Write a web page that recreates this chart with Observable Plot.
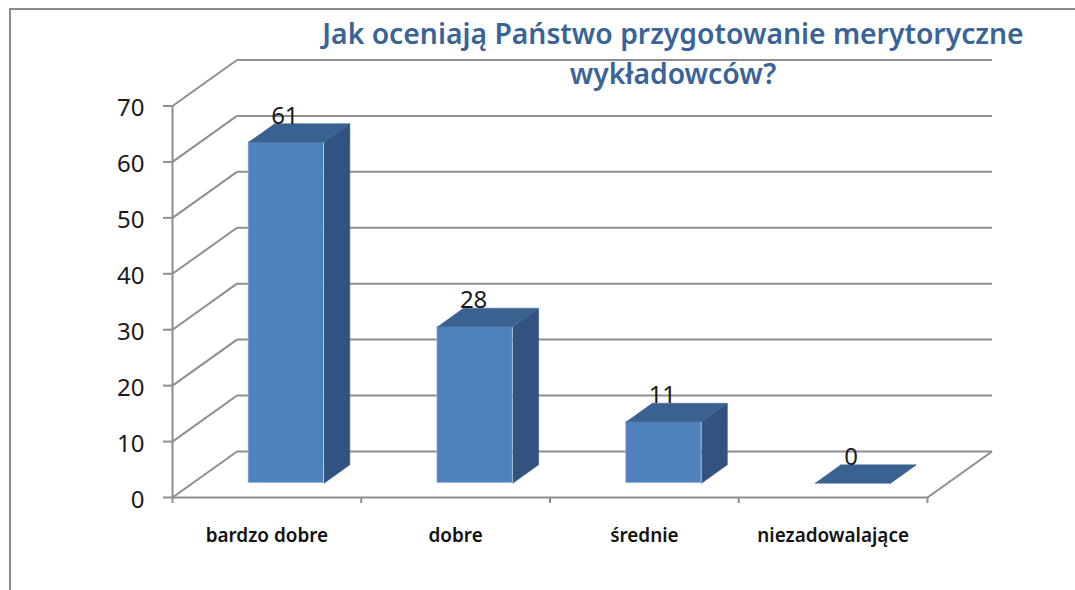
<!DOCTYPE html>
<html lang="pl">
<head>
<meta charset="utf-8">
<script src="https://cdn.jsdelivr.net/npm/d3@7"></script>
<script src="https://cdn.jsdelivr.net/npm/@observablehq/plot@0.6"></script>
<style>
  html, body { margin: 0; padding: 0; background: #fff; overflow: hidden; }
  #chart { position: relative; width: 1075px; height: 590px; }
  #chart svg { display: block; position: absolute; left: 0; top: 0; background: transparent; }
  #edge { position: absolute; left: 8.5px; top: 7.5px; right: 0; bottom: 0; border-top: 2px solid #8c8c8c; border-left: 2px solid #8c8c8c; }
</style>
</head>
<body>
<div id="chart"><div id="edge"></div></div>
<script>
const categories = ["bardzo dobre", "dobre", "średnie", "niezadowalające"];
const values = [61, 28, 11, 0];
const yTicks = [0, 10, 20, 30, 40, 50, 60, 70];
const chartTitle = "Jak oceniają Państwo przygotowanie merytoryczne\nwykładowców?";

// Oblique projection of depth z (0 = front, 1 = back wall) into data units.
const depthX = 0.3417, depthY = 8.23;
const px = (u, z) => u + depthX * z;
const py = (v, z) => v + depthY * z;
const u0 = 0.297, u1 = 0.697, z0 = 0.31, z1 = 0.71;

const n = categories.length;
const wallBack = yTicks.map(v => ({x1: px(0, 1), y1: py(v, 1), x2: px(n, 1), y2: py(v, 1)}));
const wallSide = yTicks.map(v => ({x1: px(0, 0), y1: py(v, 0), x2: px(0, 1), y2: py(v, 1)}));
const floor = [
  {x1: px(0, 0), y1: 0, x2: px(n, 0), y2: 0},
  {x1: px(n, 0), y1: 0, x2: px(n, 1), y2: py(0, 1)},
  {x1: 0, y1: 0, x2: 0, y2: 70}
];

const bars = values.map((v, i) => ({i, v, label: String(v)}));
const face = (pts) => pts.map(([u, v, z]) => ({x: px(u, z), y: py(v, z)}));
const sides = bars.flatMap(b => face([
  [b.i + u1, 0, z0], [b.i + u1, 0, z1], [b.i + u1, b.v, z1], [b.i + u1, b.v, z0]
]).map(p => ({...p, id: b.i})));
const tops = bars.flatMap(b => face([
  [b.i + u0, b.v, z0], [b.i + u1, b.v, z0], [b.i + u1, b.v, z1], [b.i + u0, b.v, z1]
]).map(p => ({...p, id: b.i})));

const gray = "#8e8e8e";
const plot = Plot.plot({
  width: 1075,
  height: 590,
  marginLeft: 172,
  marginRight: 148,
  marginTop: 105.5,
  marginBottom: 93,
  style: {background: "transparent", fontFamily: "'Noto Sans', sans-serif", overflow: "visible"},
  x: {domain: [0, n], label: null},
  y: {domain: [0, 70], label: null},
  marks: [
    Plot.link(wallBack, {x1: "x1", y1: "y1", x2: "x2", y2: "y2", stroke: gray, strokeWidth: 2}),
    Plot.link(wallSide, {x1: "x1", y1: "y1", x2: "x2", y2: "y2", stroke: gray, strokeWidth: 2}),
    Plot.link(floor, {x1: "x1", y1: "y1", x2: "x2", y2: "y2", stroke: gray, strokeWidth: 2}),
    Plot.axisY({ticks: yTicks, tickSize: 9, tickFormat: () => "", stroke: gray, strokeWidth: 2, strokeOpacity: 1, label: null}),
    Plot.text(yTicks, {
      x: () => 0, y: d => d, text: d => String(d),
      dx: -28, dy: 2.5, textAnchor: "end", fill: "#1a1a1a", fontSize: 24
    }),
    Plot.axisX({ticks: d3.range(n + 1), tickSize: 6, tickFormat: () => "", stroke: gray, strokeWidth: 2, strokeOpacity: 1, label: null}),
    Plot.rect(bars, {
      x1: d => px(d.i + u0, z0), x2: d => px(d.i + u1, z0),
      y1: d => py(0, z0), y2: d => py(d.v, z0), fill: "#4f81bd",
      stroke: "#b9cde5", strokeWidth: 1, strokeOpacity: 0.6
    }),
    Plot.line(sides, {x: "x", y: "y", z: "id", fill: "#325280", stroke: "#325280", strokeWidth: 0.5}),
    Plot.line(tops, {x: "x", y: "y", z: "id", fill: "#3a6291", stroke: "#3a6291", strokeWidth: 0.5}),
    Plot.text(bars, {
      x: d => d.i + 0.5 + depthX * z0, y: d => py(d.v, z0), text: "label",
      dx: -2, dy: -26, fill: "#1a1a1a", fontSize: 24
    }),
    Plot.text(categories, {
      x: (d, i) => i + 0.5, y: () => 0, text: d => d,
      dy: 38, fill: "#111", fontSize: 18.9, fontWeight: 600
    }),
    Plot.text([chartTitle], {
      frameAnchor: "top", lineAnchor: "top", dx: 123, dy: -90.5,
      fill: "#3a6496", fontSize: 28.3, fontWeight: 600, lineHeight: 1.41
    })
  ]
});
document.getElementById("chart").append(plot);
</script>
</body>
</html>
